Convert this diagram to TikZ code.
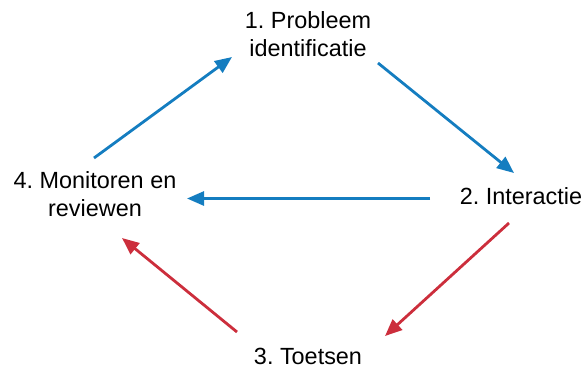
\documentclass[tikz,border=0pt]{standalone}
\usepackage{fontspec}
\setmainfont{Liberation Sans}
\usetikzlibrary{arrows.meta}
\definecolor{cycleblue}{RGB}{20,125,192}
\definecolor{cyclered}{RGB}{204,46,60}
\tikzset{
  stage/.style={inner sep=0pt, align=center, text=black,
    font=\fontsize{23.5}{28}\selectfont\frenchspacing},
  flow/.style={line width=2.8bp, -{Triangle[length=17bp,width=14bp]}},
  blueflow/.style={flow, draw=cycleblue, color=cycleblue},
  redflow/.style={flow, draw=cyclered, color=cyclered}
}
\begin{document}
\begin{tikzpicture}[x=1bp, y=-1bp]
  \useasboundingbox (0,0) rectangle (588,369);

  % the four stages of the cycle
  \node[stage] (s1) at (308,34.5) {1. Probleem\\identificatie};
  \node[stage] (s2) at (521,196.5) {2. Interactie};
  \node[stage] (s3) at (308,356) {3. Toetsen};
  \node[stage] (s4) at (95,194.5) {4. Monitoren en\\reviewen};

  % arrow end points around the stages
  \coordinate (a41) at (94,158);
  \coordinate (b41) at (232,57);
  \coordinate (a12) at (378,63);
  \coordinate (b12) at (514,173);
  \coordinate (a24) at (430,198.5);
  \coordinate (b24) at (187,198.5);
  \coordinate (a23) at (509,223);
  \coordinate (b23) at (385,336);
  \coordinate (a34) at (237,332);
  \coordinate (b34) at (122,238);

  \draw[blueflow] (a41) -- (b41);
  \draw[blueflow] (a12) -- (b12);
  \draw[blueflow] (a24) -- (b24);
  \draw[redflow] (a23) -- (b23);
  \draw[redflow] (a34) -- (b34);
\end{tikzpicture}
\end{document}
